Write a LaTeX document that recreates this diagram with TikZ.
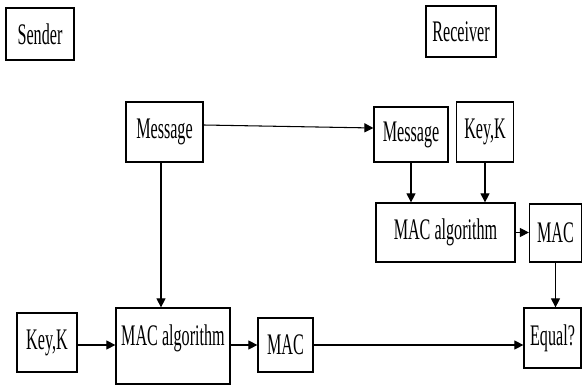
\documentclass[tikz,border=0pt]{standalone}
\usepackage{fontspec}
\setmainfont[FakeStretch=0.54]{Liberation Serif}
\usepackage{tikz}
\usetikzlibrary{shapes,arrows.meta,positioning}
\tikzstyle{box} = [rectangle, draw, line width=0.7pt, inner sep=0pt, font=\fontsize{17}{20}\selectfont]
\tikzstyle{line} = [draw, line width=0.6pt, -{Triangle[length=1.8mm, width=1.8mm]}]

\begin{document}
\begin{tikzpicture}[x=0.2mm, y=-0.2mm]
	\useasboundingbox (0,0) rectangle (583,385);

	% sender side
	\node [box, minimum width=13.6mm, minimum height=10.4mm] (sender) at (40,34) {Sender};
	\node [box, minimum width=15.4mm, minimum height=12mm] (msgS) at (164.5,132) {Message};
	\node [box, minimum width=12mm, minimum height=11.8mm] (keyS) at (47,342.5) {Key,K};
	\node [box, minimum width=22.8mm, text height=7.4mm, text depth=7.8mm] (macAlgS) at (173,346) {MAC algorithm};
	\node [box, minimum width=11mm, minimum height=10.8mm] (macS) at (285.5,345) {MAC};

	% receiver side
	\node [box, minimum width=14mm, minimum height=10.2mm] (receiver) at (461,31.5) {Receiver};
	\node [box, minimum width=14.8mm, minimum height=11mm] (msgR) at (411,134.5) {Message};
	\node [box, minimum width=11.4mm, minimum height=12mm] (keyR) at (485,132) {Key,K};
	\node [box, minimum width=27.8mm, minimum height=11.8mm] (macAlgR) at (445.5,232.5) {MAC algorithm};
	\node [box, minimum width=10.4mm, minimum height=11.6mm] (macR) at (555.5,233) {MAC};
	\node [box, minimum width=11.4mm, minimum height=12mm] (equal) at (552.5,338) {Equal?};

	\path [line] ([yshift=1.4mm]msgS.east) -- ([yshift=1.3mm]msgR.west);
	\path [line] ([xshift=-0.7mm]msgS.south) -- ([xshift=-0.7mm]msgS.south |- macAlgS.north);
	\path [line] (keyS.east |- macS) -- (macAlgS.west |- macS);
	\path [line] (macAlgS.east |- macS) -- (macS.west);
	\path [line] (macS.east) -- (macS -| equal.west);
	\path [line] (msgR.south) -- (msgR.south |- macAlgR.north);
	\path [line] (keyR.south) -- (keyR.south |- macAlgR.north);
	\path [line] (macAlgR.east) -- (macAlgR.east -| macR.west);
	\path [line] (macR.south) -- (macR.south |- equal.north);
\end{tikzpicture}
\end{document}
